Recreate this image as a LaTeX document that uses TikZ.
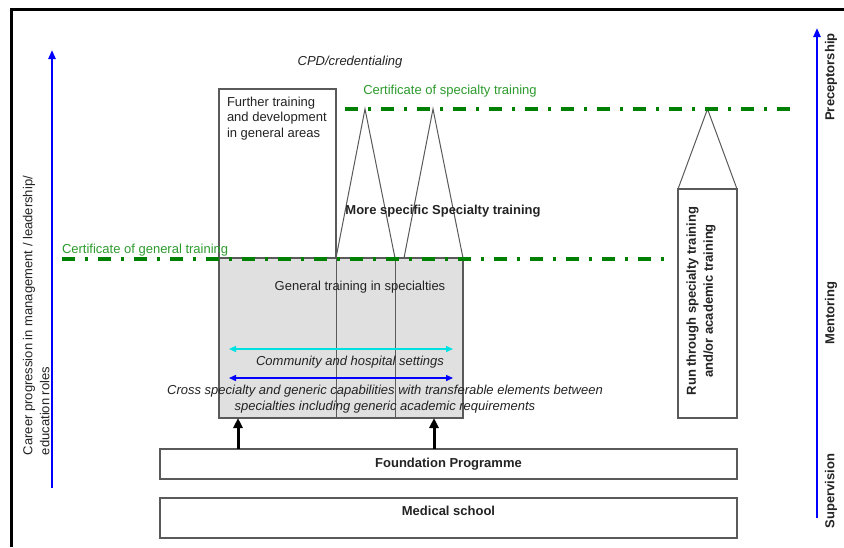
\documentclass[tikz,border=0pt]{standalone}
\usepackage{fontspec}
\setmainfont{Liberation Sans}
\usetikzlibrary{arrows.meta,calc}
\definecolor{edge}{RGB}{90,90,90}
\definecolor{panel}{RGB}{224,224,224}
\definecolor{certline}{RGB}{0,128,0}
\definecolor{certtext}{RGB}{45,155,45}
\definecolor{ink}{RGB}{35,35,35}
\definecolor{axisblue}{RGB}{0,0,255}
\definecolor{settingcyan}{RGB}{0,225,225}
\begin{document}
\begin{tikzpicture}[x=1pt,y=-1pt,
  every node/.style={font=\fontsize{13}{16}\selectfont, text=ink, inner sep=0pt, outer sep=0pt},
  boldtext/.style={font=\fontsize{13}{17}\selectfont\bfseries},
  italictext/.style={font=\fontsize{13}{16}\selectfont\itshape},
  certlabel/.style={text=certtext},
  box/.style={draw=edge, line width=1.1pt, fill=white, anchor=north west},
  divider/.style={draw=edge, line width=1pt},
  peak/.style={draw=edge, line width=1pt, line join=miter},
  certbar/.style={draw=certline, line width=3.5pt, dash pattern=on 13pt off 10pt on 3pt off 10pt},
  axis/.style={draw=axisblue, line width=2.3pt, -{Triangle[length=9pt,width=7pt]}},
  span/.style={line width=1.4pt, {Triangle[length=7pt,width=6pt]}-{Triangle[length=7pt,width=6pt]}},
  lift/.style={draw=black, line width=3pt, -{Triangle[length=10pt,width=9pt]}}
]
\useasboundingbox (0,0) rectangle (844,547);
\fill[white] (0,0) rectangle (844,547);

% frame edges
\draw[line width=3pt, black] (11,547) -- (11,9) -- (844,9);

% progression axes
\coordinate (lbot) at (52,488);
\coordinate (ltop) at (52,50);
\draw[axis] (lbot) -- (ltop);
\coordinate (rbot) at (817,518);
\coordinate (rtop) at (817,28);
\draw[axis] (rbot) -- (rtop);

% training blocks
\node[box, minimum width=117pt, minimum height=169pt] (further) at (219,89) {};
\node[box, fill=panel, minimum width=244pt, minimum height=160pt] (gen) at (219,258) {};
\draw[divider] (336,258) -- (336,418);
\draw[divider] (395,258) -- (395,418);
\node[box, minimum width=59pt, minimum height=229pt] (run) at (678,189) {};

% specialty peaks
\draw[peak] (336,258) -- (365,109) -- (395,258);
\draw[peak] (404,258) -- (433,109) -- (463,258);
\draw[peak] (run.north west) -- (707.5,109) -- (run.north east);

\node[box, minimum width=577pt, minimum height=30pt, boldtext] (found) at (160,449) {Foundation Programme};
\node[box, minimum width=577pt, minimum height=40pt] (med) at (160,498) {};
\node[boldtext] (medtext) at (448.5,511) {Medical school};

% progression from the foundation programme
\coordinate (a1) at (238,418);
\coordinate (a2) at (434,418);
\draw[lift] (found.north -| a1) -- (a1);
\draw[lift] (found.north -| a2) -- (a2);

% settings spans
\coordinate (c1) at (229,349);
\coordinate (c2) at (453,349);
\draw[span, draw=settingcyan] (c1) -- (c2);
\coordinate (b1) at (229,378);
\coordinate (b2) at (453,378);
\draw[span, draw=axisblue] (b1) -- (b2);

% certificate levels
\draw[certbar] (62,259) -- (665,259);
\draw[certbar] (345,109) -- (790,109);

% labels
\node[italictext] (cpd) at (350,62) {CPD/credentialing};
\node[certlabel] (certspec) at (450,91) {Certificate of specialty training};
\node[certlabel, anchor=west] (certgen) at (62,250) {Certificate of general training};
\node[anchor=north west, align=left, font=\fontsize{13}{15.5}\selectfont] (furthertext) at (227,97) {Further training\\and development\\in general areas};
\node[boldtext] (spec) at (443,211) {More specific Specialty training};
\node (gentext) at (360,287) {General training in specialties};
\node[italictext] (settings) at (350,362) {Community and hospital settings};
\node[italictext, align=center] (cross) at (385,399) {Cross specialty and generic capabilities with transferable elements between\\specialties including generic academic requirements};
\node[rotate=90, align=left, anchor=north west, font=\fontsize{13}{17}\selectfont] (career) at (23,455) {Career progression in management / leadership/\\education roles};
\node[boldtext, rotate=90, align=center] (runtext) at (701,301) {Run through specialty training\\and/or academic training};
\node[boldtext, rotate=90] (precept) at (831,77) {Preceptorship};
\node[boldtext, rotate=90] (mentor) at (831,313) {Mentoring};
\node[boldtext, rotate=90] (superv) at (831,491) {Supervision};
\end{tikzpicture}
\end{document}
